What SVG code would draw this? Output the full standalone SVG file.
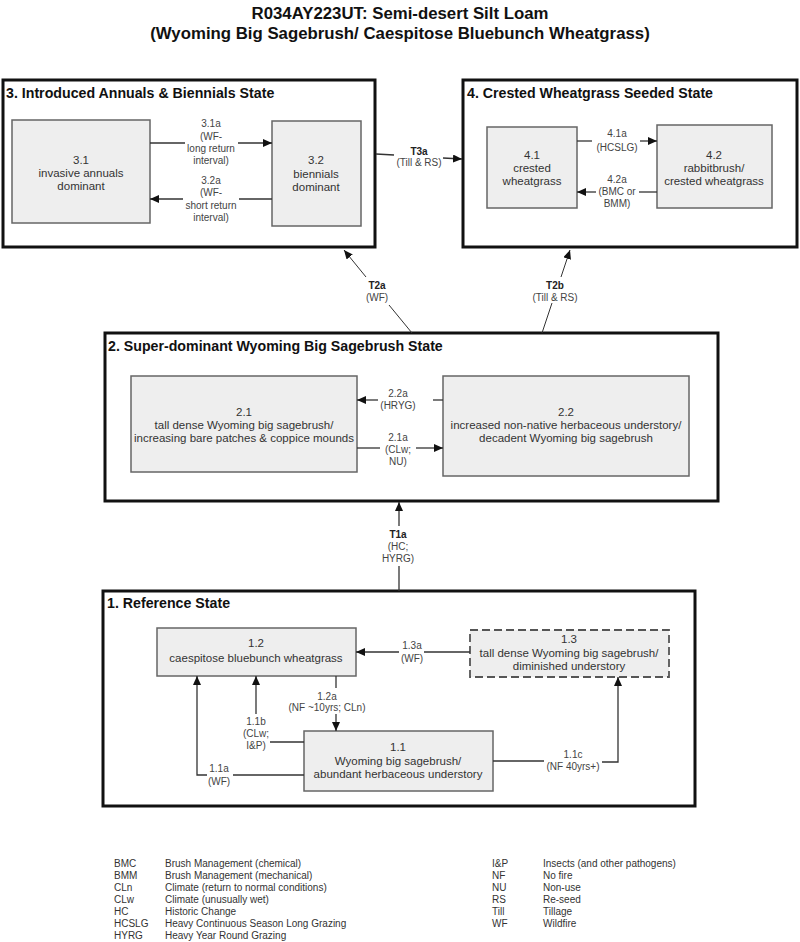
<svg xmlns="http://www.w3.org/2000/svg" width="800" height="942" viewBox="0 0 800 942">
<style>
.title{font-family:"Liberation Sans",Arial,sans-serif;font-weight:bold;font-size:16.8px;fill:#111;text-anchor:middle}
.state{fill:#fff;stroke:#111;stroke-width:3}
.stitle{font-family:"Liberation Sans",Arial,sans-serif;font-weight:bold;font-size:14.2px;fill:#111}
.box{fill:#eeeeee;stroke:#666;stroke-width:1.5}
.dbox{fill:#eeeeee;stroke:#555;stroke-width:1.8;stroke-dasharray:8 4}
.bt{font-family:"Liberation Sans",Arial,sans-serif;font-size:11.5px;fill:#333;text-anchor:middle}
.lt{font-family:"Liberation Sans",Arial,sans-serif;font-size:10px;fill:#444;text-anchor:middle}
.tb{font-family:"Liberation Sans",Arial,sans-serif;font-size:10px;font-weight:bold;fill:#222;text-anchor:middle}
.ln{fill:none;stroke:#333;stroke-width:1.3}
.lg{font-family:"Liberation Sans",Arial,sans-serif;font-size:10px;fill:#333}
</style>
<defs>
<marker id="ah" markerUnits="userSpaceOnUse" markerWidth="10" markerHeight="8" refX="9" refY="4" orient="auto">
<path d="M0,0 L9,4 L0,8 Z" fill="#111"/>
</marker>
</defs>

<g id="title">
<text class="title" x="400" y="19">R034AY223UT: Semi-desert Silt Loam</text>
<text class="title" x="400" y="39">(Wyoming Big Sagebrush/ Caespitose Bluebunch Wheatgrass)</text>
</g>

<g id="state3">
<rect class="state" x="3" y="80" width="372" height="167"/>
<text class="stitle" x="6" y="98">3. Introduced Annuals &amp; Biennials State</text>
</g>
<g id="n3_1">
<rect class="box" x="12" y="120" width="138" height="103"/>
<text class="bt" x="81" y="164">3.1</text>
<text class="bt" x="81" y="177">invasive annuals</text>
<text class="bt" x="81" y="190">dominant</text>
</g>
<g id="n3_2">
<rect class="box" x="272" y="121" width="89" height="105"/>
<text class="bt" x="316" y="164">3.2</text>
<text class="bt" x="316" y="178">biennials</text>
<text class="bt" x="316" y="191">dominant</text>
</g>

<g id="state4">
<rect class="state" x="463" y="80" width="334" height="167"/>
<text class="stitle" x="467" y="98">4. Crested Wheatgrass Seeded State</text>
</g>
<g id="n4_1">
<rect class="box" x="487" y="127" width="90" height="81"/>
<text class="bt" x="532" y="159">4.1</text>
<text class="bt" x="532" y="172">crested</text>
<text class="bt" x="532" y="185">wheatgrass</text>
</g>
<g id="n4_2">
<rect class="box" x="657" y="125" width="115" height="83"/>
<text class="bt" x="714" y="159">4.2</text>
<text class="bt" x="714" y="172">rabbitbrush/</text>
<text class="bt" x="714" y="185">crested wheatgrass</text>
</g>

<g id="state2">
<rect class="state" x="105" y="333" width="613" height="168"/>
<text class="stitle" x="108" y="351">2. Super-dominant Wyoming Big Sagebrush State</text>
</g>
<g id="n2_1">
<rect class="box" x="131" y="376" width="226" height="96"/>
<text class="bt" x="244" y="416">2.1</text>
<text class="bt" x="244" y="429">tall dense Wyoming big sagebrush/</text>
<text class="bt" x="244" y="442">increasing bare patches &amp; coppice mounds</text>
</g>
<g id="n2_2">
<rect class="box" x="443" y="376" width="246" height="100"/>
<text class="bt" x="566" y="416">2.2</text>
<text class="bt" x="566" y="429">increased non-native herbaceous understory/</text>
<text class="bt" x="566" y="442">decadent Wyoming big sagebrush</text>
</g>

<g id="state1">
<rect class="state" x="103" y="591" width="592" height="215"/>
<text class="stitle" x="107" y="608">1. Reference State</text>
</g>
<g id="n1_2">
<rect class="box" x="157" y="628" width="199" height="48"/>
<text class="bt" x="256" y="647">1.2</text>
<text class="bt" x="256" y="662">caespitose bluebunch wheatgrass</text>
</g>
<g id="n1_3">
<rect class="dbox" x="470" y="630" width="199" height="47"/>
<text class="bt" x="569" y="643">1.3</text>
<text class="bt" x="569" y="657">tall dense Wyoming big sagebrush/</text>
<text class="bt" x="569" y="670">diminished understory</text>
</g>
<g id="n1_1">
<rect class="box" x="304" y="731" width="189" height="60"/>
<text class="bt" x="398" y="751">1.1</text>
<text class="bt" x="398" y="765">Wyoming big sagebrush/</text>
<text class="bt" x="398" y="778">abundant herbaceous understory</text>
</g>

<g id="connectors">
<line class="ln" x1="150" y1="143" x2="185" y2="143"/>
<line class="ln" x1="238" y1="143" x2="272" y2="143" marker-end="url(#ah)"/>
<text class="lt" x="211" y="127">3.1a</text>
<text class="lt" x="211" y="140">(WF-</text>
<text class="lt" x="211" y="152">long return</text>
<text class="lt" x="211" y="164">interval)</text>
<line class="ln" x1="272" y1="199" x2="239" y2="199"/>
<line class="ln" x1="183" y1="199" x2="150" y2="199" marker-end="url(#ah)"/>
<text class="lt" x="211" y="184">3.2a</text>
<text class="lt" x="211" y="196">(WF-</text>
<text class="lt" x="211" y="209">short return</text>
<text class="lt" x="211" y="221">interval)</text>
<line class="ln" x1="577" y1="141" x2="592" y2="141"/>
<line class="ln" x1="640" y1="141" x2="657" y2="141" marker-end="url(#ah)"/>
<text class="lt" x="617" y="137">4.1a</text>
<text class="lt" x="617" y="151">(HCSLG)</text>
<line class="ln" x1="657" y1="192" x2="639" y2="192"/>
<line class="ln" x1="596" y1="192" x2="577" y2="192" marker-end="url(#ah)"/>
<text class="lt" x="617" y="183">4.2a</text>
<text class="lt" x="617" y="195">(BMC or</text>
<text class="lt" x="617" y="207">BMM)</text>
<line class="ln" x1="376" y1="154" x2="394" y2="155"/>
<line class="ln" x1="443" y1="158" x2="462" y2="159" marker-end="url(#ah)"/>
<text class="tb" x="419" y="155">T3a</text>
<text class="lt" x="419" y="166">(Till &amp; RS)</text>
<line class="ln" x1="412" y1="333" x2="389" y2="305" style="stroke-width:1"/>
<line class="ln" x1="366" y1="277" x2="344" y2="250" style="stroke-width:1" marker-end="url(#ah)"/>
<text class="tb" x="377" y="289">T2a</text>
<text class="lt" x="377" y="301">(WF)</text>
<line class="ln" x1="542" y1="333" x2="552" y2="303" style="stroke-width:1"/>
<line class="ln" x1="561" y1="277" x2="570" y2="250" style="stroke-width:1" marker-end="url(#ah)"/>
<text class="tb" x="555" y="289">T2b</text>
<text class="lt" x="555" y="301">(Till &amp; RS)</text>
<line class="ln" x1="443" y1="400" x2="433" y2="400"/>
<line class="ln" x1="378" y1="400" x2="357" y2="400" marker-end="url(#ah)"/>
<text class="lt" x="398" y="397">2.2a</text>
<text class="lt" x="398" y="409">(HRYG)</text>
<line class="ln" x1="357" y1="448" x2="380" y2="448"/>
<line class="ln" x1="416" y1="448" x2="443" y2="448" marker-end="url(#ah)"/>
<text class="lt" x="398" y="441">2.1a</text>
<text class="lt" x="398" y="453">(CLw;</text>
<text class="lt" x="398" y="465">NU)</text>
<line class="ln" x1="399" y1="591" x2="399" y2="566"/>
<line class="ln" x1="399" y1="526" x2="399" y2="502" marker-end="url(#ah)"/>
<text class="tb" x="398" y="538">T1a</text>
<text class="lt" x="398" y="550">(HC;</text>
<text class="lt" x="398" y="562">HYRG)</text>
<line class="ln" x1="470" y1="652" x2="424" y2="652"/>
<line class="ln" x1="399" y1="652" x2="356" y2="652" marker-end="url(#ah)"/>
<text class="lt" x="412" y="649">1.3a</text>
<text class="lt" x="412" y="662">(WF)</text>
<line class="ln" x1="336" y1="676" x2="336" y2="688"/>
<line class="ln" x1="336" y1="714" x2="336" y2="731" marker-end="url(#ah)"/>
<text class="lt" x="327" y="700">1.2a</text>
<text class="lt" x="327" y="711">(NF ~10yrs; CLn)</text>
<line class="ln" x1="304" y1="742" x2="270" y2="742"/>
<line class="ln" x1="256" y1="714" x2="256" y2="676" marker-end="url(#ah)"/>
<text class="lt" x="256" y="725">1.1b</text>
<text class="lt" x="256" y="737">(CLw;</text>
<text class="lt" x="256" y="749">I&amp;P)</text>
<line class="ln" x1="304" y1="775" x2="233" y2="775"/>
<polyline class="ln" points="207,775 197,775 197,676" marker-end="url(#ah)"/>
<text class="lt" x="219" y="772">1.1a</text>
<text class="lt" x="219" y="785">(WF)</text>
<line class="ln" x1="493" y1="761" x2="544" y2="761"/>
<polyline class="ln" points="602,762 618,762 618,677" marker-end="url(#ah)"/>
<text class="lt" x="573" y="758">1.1c</text>
<text class="lt" x="573" y="770">(NF 40yrs+)</text>
</g>

<g id="legend">
<text class="lg" x="114" y="867">BMC</text><text class="lg" x="165" y="867">Brush Management (chemical)</text>
<text class="lg" x="114" y="879">BMM</text><text class="lg" x="165" y="879">Brush Management (mechanical)</text>
<text class="lg" x="114" y="891">CLn</text><text class="lg" x="165" y="891">Climate (return to normal conditions)</text>
<text class="lg" x="114" y="903">CLw</text><text class="lg" x="165" y="903">Climate (unusually wet)</text>
<text class="lg" x="114" y="915">HC</text><text class="lg" x="165" y="915">Historic Change</text>
<text class="lg" x="114" y="927">HCSLG</text><text class="lg" x="165" y="927">Heavy Continuous Season Long Grazing</text>
<text class="lg" x="114" y="939">HYRG</text><text class="lg" x="165" y="939">Heavy Year Round Grazing</text>
<text class="lg" x="492" y="867">I&amp;P</text><text class="lg" x="543" y="867">Insects (and other pathogens)</text>
<text class="lg" x="492" y="879">NF</text><text class="lg" x="543" y="879">No fire</text>
<text class="lg" x="492" y="891">NU</text><text class="lg" x="543" y="891">Non-use</text>
<text class="lg" x="492" y="903">RS</text><text class="lg" x="543" y="903">Re-seed</text>
<text class="lg" x="492" y="915">Till</text><text class="lg" x="543" y="915">Tillage</text>
<text class="lg" x="492" y="927">WF</text><text class="lg" x="543" y="927">Wildfire</text>
</g>
</svg>
